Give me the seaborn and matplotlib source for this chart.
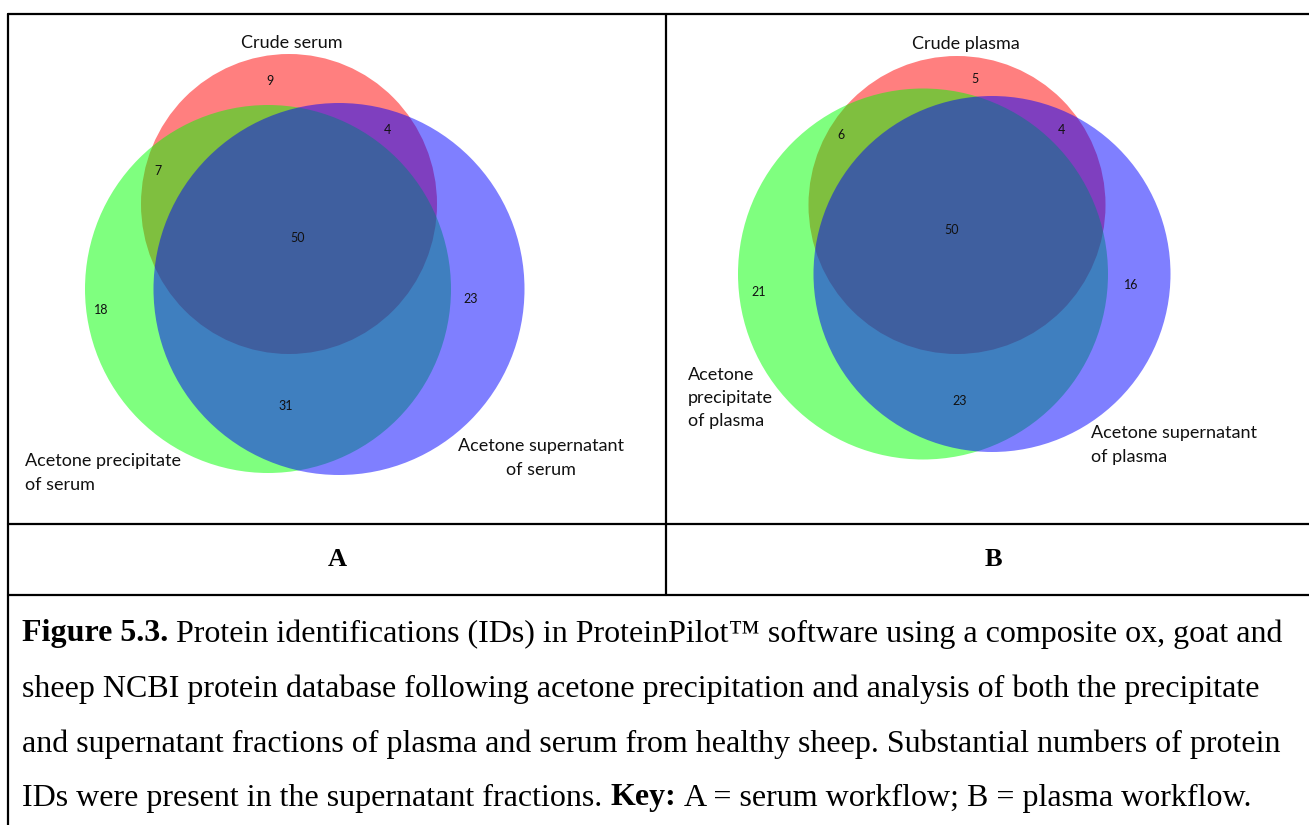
import matplotlib
matplotlib.use("Agg")
import matplotlib.pyplot as plt
from matplotlib.patches import Ellipse
import seaborn as sns

# ---------------- data ----------------
serum_sets = ["Crude serum", "Acetone precipitate\nof serum", "Acetone supernatant\nof serum"]
plasma_sets = ["Crude plasma", "Acetone\nprecipitate\nof plasma", "Acetone supernatant\nof plasma"]
# region order: crude only, crude&precip, crude&super, all three, precip only, super only, precip&super
region_names = ["C", "CP", "CS", "CPS", "P", "S", "PS"]
serum_counts = [9, 7, 4, 50, 18, 23, 31]
plasma_counts = [5, 6, 4, 50, 21, 16, 23]
panel_letters = ["A", "B"]

caption_lines = [
    [("Figure 5.3.", "bold"), (" Protein identifications (IDs) in ProteinPilot\u2122 software using a composite ox, goat and", "normal")],
    [("sheep NCBI protein database following acetone precipitation and analysis of both the precipitate", "normal")],
    [("and supernatant fractions of plasma and serum from healthy sheep. Substantial numbers of protein", "normal")],
    [("IDs were present in the supernatant fractions. ", "normal"), ("Key:", "bold"), (" A = serum workflow; B = plasma workflow.", "normal")],
]

# ---------------- layout (pixel coordinates) ----------------
W, H = 1309, 825
sns.set_theme(style="white")
plt.rcParams["font.family"] = ["Lato", "DejaVu Sans"]
colors = sns.color_palette(["#FF0000", "#00FF00", "#0000FF"])

fig = plt.figure(figsize=(W / 100, H / 100), dpi=100)
ax = fig.add_axes([0, 0, 1, 1])
ax.set_xlim(0, W)
ax.set_ylim(H, 0)
ax.axis("off")

# circles: (cx, cy, width, height)
serum_geom = [(289, 204, 296, 300), (268, 289, 366, 368), (339, 289, 371, 372)]
plasma_geom = [(957, 205, 297, 298), (923, 274, 370, 371), (992, 274, 357, 356)]

serum_num_pos = [(270, 81), (158, 171), (387, 130), (298, 238), (101, 310), (471, 299), (286, 406)]
plasma_num_pos = [(975, 79), (841, 135), (1061, 130), (952, 230), (759, 292), (1131, 285), (960, 401)]

serum_label_pos = [((292, 43), "center"), ((25, 473), "left"), ((541, 458), "center")]
plasma_label_pos = [((966, 44), "center"), ((688, 398), "left"), ((1091, 445), "left")]


def draw_venn(geom, counts, num_pos, sets, label_pos):
    for (cx, cy, w, h), c in zip(geom, colors):
        ax.add_patch(Ellipse((cx, cy), w, h, facecolor=c, alpha=0.5, edgecolor="none", zorder=2))
    for n, (x, y) in zip(counts, num_pos):
        ax.text(x, y, str(n), ha="center", va="center", fontsize=9, color="#111111", zorder=5)
    for name, ((x, y), ha) in zip(sets, label_pos):
        ax.text(x, y, name, ha=ha, va="center", fontsize=13, color="#111111",
                linespacing=1.55, multialignment=ha, zorder=5)


draw_venn(serum_geom, serum_counts, serum_num_pos, serum_sets, serum_label_pos)
draw_venn(plasma_geom, plasma_counts, plasma_num_pos, plasma_sets, plasma_label_pos)

# table borders
lw = 1.6
ax.plot([8, W], [14, 14], color="black", lw=lw, zorder=6)
ax.plot([8, 8], [14, H], color="black", lw=lw, zorder=6)
ax.plot([666, 666], [14, 595], color="black", lw=lw, zorder=6)
ax.plot([8, W], [524, 524], color="black", lw=lw, zorder=6)
ax.plot([8, W], [595, 595], color="black", lw=lw, zorder=6)

serif = ["Liberation Serif", "DejaVu Serif"]
for letter, x in zip(panel_letters, [337, 993]):
    ax.text(x, 560, letter, ha="center", va="center", fontsize=19, fontweight="bold",
            family=serif, color="black")

# caption
renderer = fig.canvas.get_renderer()
cap_size = 23
line_y = [634, 689, 744, 798]
for segs, y in zip(caption_lines, line_y):
    x = 22
    for txt, weight in segs:
        lead = len(txt) - len(txt.lstrip(" "))
        trail = len(txt) - len(txt.rstrip(" "))
        core = txt.strip(" ")
        a = ax.text(0, -100, "a a", fontsize=cap_size, family=serif, fontweight=weight)
        b = ax.text(0, -100, "aa", fontsize=cap_size, family=serif, fontweight=weight)
        sp = a.get_window_extent(renderer).width - b.get_window_extent(renderer).width
        a.remove(); b.remove()
        x += lead * sp
        t = ax.text(x, y, core, ha="left", va="center", fontsize=cap_size, family=serif,
                    fontweight=weight, color="black")
        x += t.get_window_extent(renderer).width + trail * sp

fig.savefig("out.png", dpi=100)
